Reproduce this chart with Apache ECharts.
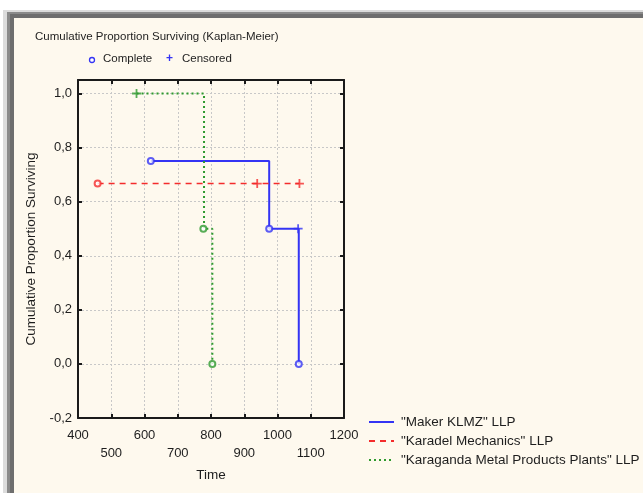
<!DOCTYPE html>
<html style="height: 100%">
<head>
<meta charset="utf-8">
</head>
<body style="height: 100%; margin: 0; background: #ffffff">
<div id="container" style="width: 643px; height: 493px"></div>
<script type="text/javascript" src="https://cdn.jsdelivr.net/npm/echarts@6/dist/echarts.min.js"></script>
<script type="text/javascript">
var dom = document.getElementById('container');
var myChart = echarts.init(dom);

// series names
var seriesNames = ['"Maker KLMZ" LLP', '"Karadel Mechanics" LLP', '"Karaganda Metal Products Plants" LLP'];
var seriesColors = ['#3434f4', '#f42c2c', '#2e9a2e'];

// step curves: [time, proportion]
var makerSteps = [[619, 0.75], [975, 0.75], [975, 0.5], [1064, 0.5], [1064, 0]];
var makerComplete = [[619, 0.75], [975, 0.5], [1064, 0]];
var makerCensored = [[1062, 0.5]];

var karadelSteps = [[459, 0.667], [1066, 0.667]];
var karadelComplete = [[459, 0.667]];
var karadelCensored = [[939, 0.667], [1066, 0.667]];

var karagandaSteps = [[576, 1.0], [779, 1.0], [779, 0.5], [804, 0.5], [804, 0]];
var karagandaComplete = [[777, 0.5], [804, 0]];
var karagandaCensored = [[576, 1.0]];

// axis ranges
var xMin = 400, xMax = 1200, xStep = 100;
var yMin = -0.2, yMax = 1.05, yStep = 0.2;

var plusPath = 'path://M4,0h2v4h4v2h-4v4h-2v-4h-4v-2h4z';
var font = '"Liberation Sans", Arial, sans-serif';
var textColor = '#1e1e1e';

function stepSeries(name, data, color, type, width) {
    return {
        name: name,
        type: 'line',
        data: data,
        symbol: 'none',
        animation: false,
        color: color,
        lineStyle: { color: color, type: type, width: width },
        z: 3
    };
}
function markSeries(data, color, symbol, size) {
    return {
        type: 'scatter',
        data: data,
        symbol: symbol,
        symbolSize: size,
        animation: false,
        itemStyle: symbol === 'emptyCircle'
            ? { color: color, borderColor: color, borderWidth: 1.5 }
            : { color: color },
        z: 4
    };
}

function yLabel(v) {
    var k = Math.round(v / yStep);
    if (Math.abs(v - k * yStep) > 1e-6) return '';
    return v.toFixed(1).replace('.', ',');
}

var axisLineStyle = { color: '#1a1a1a', width: 2 };
var gridLineStyle = { color: '#c8c8c8', type: [2, 2], width: 1 };

var option = {
    backgroundColor: '#ffffff',
    animation: false,
    textStyle: { fontFamily: font },
    graphic: [
        { type: 'rect', shape: { x: 3, y: 10, width: 700, height: 600 }, style: { fill: '#dcdcdc' }, silent: true, z: -10 },
        { type: 'rect', shape: { x: 7, y: 12, width: 700, height: 600 }, style: { fill: '#8a8a8a' }, silent: true, z: -10 },
        { type: 'rect', shape: { x: 10, y: 14, width: 700, height: 600 }, style: { fill: '#6e6e6e' }, silent: true, z: -10 },
        { type: 'rect', shape: { x: 14, y: 18, width: 700, height: 600 }, style: { fill: '#fef9ee' }, silent: true, z: -10 },
        { type: 'text', left: 35, top: 31, style: { text: 'Cumulative Proportion Surviving (Kaplan-Meier)', font: '11.5px ' + font, fill: textColor } },
        { type: 'circle', shape: { cx: 92, cy: 60, r: 2.5 }, style: { fill: '#ffffff', stroke: '#3434f4', lineWidth: 1.3 } },
        { type: 'text', left: 103, top: 53, style: { text: 'Complete', font: '11.5px ' + font, fill: textColor } },
        { type: 'text', left: 166, top: 53, style: { text: '+', font: 'bold 12px ' + font, fill: '#3434f4' } },
        { type: 'text', left: 182, top: 53, style: { text: 'Censored', font: '11.5px ' + font, fill: textColor } }
    ],
    legend: {
        data: seriesNames,
        orient: 'vertical',
        left: 363,
        top: 410,
        itemWidth: 25,
        itemHeight: 14,
        itemGap: 5,
        itemStyle: { opacity: 0 },
        textStyle: { fontSize: 13.5, color: textColor, fontFamily: font, padding: [0, 0, 0, 2] },
        selectedMode: false
    },
    grid: { left: 78, right: 299, top: 80, bottom: 75 },
    xAxis: [{
        type: 'value',
        min: xMin, max: xMax, interval: xStep,
        name: 'Time',
        nameLocation: 'middle',
        nameGap: 50,
        nameTextStyle: { fontSize: 13.5, color: textColor, fontFamily: font },
        axisLine: { show: true, onZero: false, lineStyle: axisLineStyle },
        axisTick: { show: true, inside: true, length: 4, lineStyle: axisLineStyle },
        axisLabel: {
            color: textColor, fontSize: 13, fontFamily: font, margin: 8, lineHeight: 18,
            formatter: function (v) {
                var i = Math.round((v - xMin) / xStep);
                return i % 2 === 0 ? String(v) : '\n' + v;
            }
        },
        splitLine: { show: true, lineStyle: gridLineStyle }
    }, {
        type: 'value',
        position: 'top',
        min: xMin, max: xMax, interval: xStep,
        axisLine: { show: true, onZero: false, lineStyle: axisLineStyle },
        axisTick: { show: true, inside: true, length: 4, lineStyle: axisLineStyle },
        axisLabel: { show: false },
        splitLine: { show: false }
    }],
    yAxis: [{
        type: 'value',
        min: yMin, max: yMax, interval: yStep,
        name: 'Cumulative Proportion Surviving',
        nameLocation: 'middle',
        nameGap: 40,
        nameTextStyle: { fontSize: 13.5, color: textColor, fontFamily: font },
        axisLine: { show: true, onZero: false, lineStyle: axisLineStyle },
        axisTick: { show: true, inside: true, length: 4, lineStyle: axisLineStyle },
        axisLabel: { color: textColor, fontSize: 13, fontFamily: font, margin: 6, formatter: yLabel },
        splitLine: { show: true, lineStyle: gridLineStyle }
    }, {
        type: 'value',
        position: 'right',
        min: yMin, max: yMax, interval: yStep,
        axisLine: { show: true, onZero: false, lineStyle: axisLineStyle },
        axisTick: { show: true, inside: true, length: 4, lineStyle: axisLineStyle },
        axisLabel: { show: false },
        splitLine: { show: false }
    }],
    series: [
        stepSeries(seriesNames[0], makerSteps, seriesColors[0], 'solid', 2),
        stepSeries(seriesNames[1], karadelSteps, seriesColors[1], [6, 5], 1.6),
        stepSeries(seriesNames[2], karagandaSteps, seriesColors[2], [2, 3], 2),
        markSeries(makerComplete, seriesColors[0], 'emptyCircle', 6),
        markSeries(makerCensored, seriesColors[0], plusPath, 9),
        markSeries(karadelComplete, seriesColors[1], 'emptyCircle', 6),
        markSeries(karadelCensored, seriesColors[1], plusPath, 9),
        markSeries(karagandaComplete, seriesColors[2], 'emptyCircle', 6),
        markSeries(karagandaCensored, seriesColors[2], plusPath, 9)
    ]
};

myChart.setOption(option);
</script>
</body>
</html>
